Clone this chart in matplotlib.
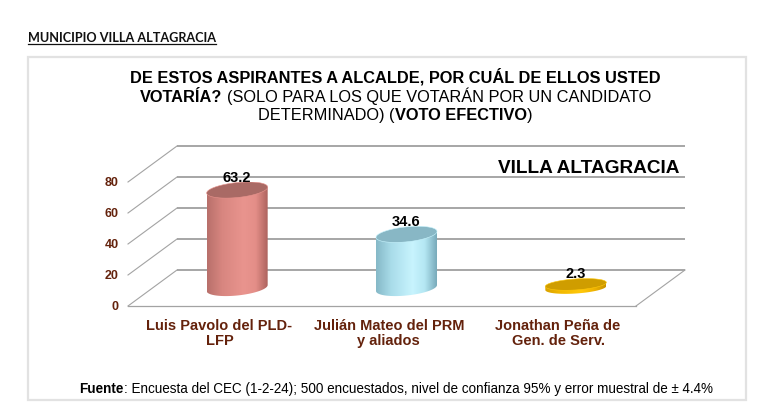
import numpy as np
import matplotlib
matplotlib.use("Agg")
import matplotlib.pyplot as plt
from matplotlib.colors import LinearSegmentedColormap
from matplotlib.patches import Polygon, Rectangle

# data
candidates = ["Luis Pavolo del PLD-\nLFP", "Julián Mateo del PRM\ny aliados", "Jonathan Peña de\nGen. de Serv."]
votes = [63.2, 34.6, 2.3]
y_ticks = [0, 20, 40, 60, 80]
header = "MUNICIPIO VILLA ALTAGRACIA"
place = "VILLA ALTAGRACIA"
title_lines = [
    [("DE ESTOS ASPIRANTES A ALCALDE, POR CUÁL DE ELLOS USTED", "bold")],
    [("VOTARÍA?", "bold"), (" (SOLO PARA LOS QUE VOTARÁN POR UN CANDIDATO", "normal")],
    [("DETERMINADO) (", "normal"), ("VOTO EFECTIVO", "bold"), (")", "normal")],
]
source = [("Fuente", "bold"), (": Encuesta del CEC (1-2-24); 500 encuestados, nivel de confianza 95% y error muestral de ± 4.4%", "normal")]

# colours per bar: gradient stops of the side, colour of the top
side_colors = [
    ["#b8706b", "#d88680", "#e9948e", "#e48e88", "#ad635e"],
    ["#85b8c7", "#a9dce9", "#c8f4fe", "#b4e7f3", "#78aaba"],
    ["#d9a200", "#f2b900", "#ffc80a", "#f0b400", "#c99300"],
]
top_colors = ["#a96a65", "#88b7c5", "#cf9d00"]
ell_px = [15, 15, 11]
tilt_px = [3, 3, 2]

W, H = 767, 410
fig = plt.figure(figsize=(W / 100, H / 100), dpi=100)
fig.patch.set_facecolor("white")
renderer = fig.canvas.get_renderer()
ARIAL = "Liberation Sans"
BROWN = "#64220c"


def fx(x):
    return x / W


def fy(y):
    return 1 - y / H


def text_w(s, size, weight, family):
    t = fig.text(0, 0, s, fontsize=size, fontweight=weight, family=family)
    w = t.get_window_extent(renderer).width
    t.remove()
    return w


def layout(segs, size, family):
    space = text_w("x x", size, "normal", family) - text_w("xx", size, "normal", family)
    items, total = [], 0
    for s, wt in segs:
        lead = len(s) - len(s.lstrip(" "))
        s = s.lstrip(" ")
        total += lead * space
        items.append((total, s, wt))
        total += text_w(s, size, wt, family)
    return items, total


def fit_size(segs, target, family):
    _, w = layout(segs, 10, family)
    return 10 * target / w


def draw_segs(segs, x, base, size, family, color="black", center=True):
    items, total = layout(segs, size, family)
    x0 = x - total / 2 if center else x
    for off, s, wt in items:
        fig.text(fx(x0 + off), fy(base), s, fontsize=size, fontweight=wt,
                 family=family, color=color, ha="left", va="baseline")
    return x0, total


# frame
fig.add_artist(Rectangle((fx(28), fy(401)), (746 - 28) / W, (401 - 58) / H,
                         transform=fig.transFigure, facecolor="none",
                         edgecolor="#e2e2e2", lw=1.6, zorder=-1))

# header (underlined)
hs = fit_size([(header, "bold")], 187, "Lato")
x0, tw = draw_segs([(header, "bold")], 28, 42, hs, "Lato", color="#111111", center=False)
fig.add_artist(plt.Line2D([fx(x0), fx(x0 + tw)], [fy(44.5), fy(44.5)],
                          transform=fig.transFigure, color="#111111", lw=0.9))

# title
ts = fit_size(title_lines[0], 529, ARIAL)
for segs, base in zip(title_lines, [83, 102, 120]):
    draw_segs(segs, 395.5, base, ts, ARIAL)

# source
ss = fit_size(source, 638, ARIAL)
draw_segs(source, 396, 393, ss, ARIAL)

# chart: front plane axes
x0p, x1p, y0p, y1p = 128, 636, 307, 183
ax = fig.add_axes([fx(x0p), fy(y0p), (x1p - x0p) / W, (y0p - y1p) / H])
ax.axis("off")
ax.set_zorder(2)
n = len(votes)
xl = (-0.5, n - 0.5)
px_x = (x1p - x0p) / n
px_y = (y0p - y1p) / y_ticks[-1]
dx = 49 / px_x
dy = 36 / px_y

for v in y_ticks:
    ax.plot([xl[0] + dx, xl[1] + dx], [v + dy, v + dy], color="#a6a6a6", lw=1.4,
            clip_on=False, zorder=1, solid_capstyle="butt")
    ax.plot([xl[0], xl[0] + dx], [v, v + dy], color="#a3a3a3", lw=0.8,
            clip_on=False, zorder=1)
    ax.annotate(str(v), (xl[0], v), xytext=(-6.5, 0), textcoords="offset points",
                ha="right", va="center", fontsize=9, fontweight="bold",
                family=ARIAL, color=BROWN, annotation_clip=False)
ax.plot([xl[0], xl[1]], [0, 0], color="#a3a3a3", lw=0.9, clip_on=False, zorder=1)
ax.plot([xl[1], xl[1] + dx], [0, dy], color="#a3a3a3", lw=0.8, clip_on=False, zorder=1)


def cylinder(cx, base, h, w, eh, tilt, stops, top_c):
    a = w / 2
    b = eh / 2
    top = base + h
    t = np.linspace(0, np.pi, 60)
    arc_x = cx - a * np.cos(t)
    arc_y = base - b * np.sin(t) - tilt * np.cos(t)
    verts = [(cx - a, top - tilt)] + list(zip(arc_x, arc_y)) + [(cx + a, top + tilt)]
    clip = Polygon(verts, closed=True, facecolor="none", edgecolor="none")
    ax.add_patch(clip)
    cmap = LinearSegmentedColormap.from_list("c", list(zip([0, 0.25, 0.6, 0.8, 1], stops)))
    grad = np.linspace(0, 1, 256).reshape(1, -1)
    im = ax.imshow(grad, cmap=cmap, extent=[cx - a, cx + a, base - b - tilt, top + tilt],
                   aspect="auto", origin="lower", zorder=3, interpolation="bilinear")
    im.set_clip_path(clip)
    tt = np.linspace(0, 2 * np.pi, 120)
    ex = cx + a * np.cos(tt)
    ey = top + b * np.sin(tt) + tilt * np.cos(tt)
    ax.add_patch(Polygon(list(zip(ex, ey)), closed=True, facecolor=top_c,
                         edgecolor=stops[2], lw=0.4, zorder=4))
    return top + np.hypot(b, tilt)


for i, v in enumerate(votes):
    cx = i + dx / 2
    top_edge = cylinder(cx, dy / 2, v, 61 / px_x, ell_px[i] / px_y, tilt_px[i] / px_y,
                        side_colors[i], top_colors[i])
    ax.annotate(f"{v}", (cx, top_edge), xytext=(0, 1.0), textcoords="offset points",
                ha="center", va="baseline", fontsize=10.5, fontweight="bold",
                family=ARIAL, color="black", zorder=5, annotation_clip=False)
    ax.annotate(candidates[i], (i + 0.04, 0), xytext=(0, -9), textcoords="offset points",
                ha="center", va="top", fontsize=10.5, fontweight="bold", family=ARIAL,
                color=BROWN, linespacing=1.05, annotation_clip=False)

ps = fit_size([(place, "bold")], 181, ARIAL)
ax.annotate(place, (xl[1] + dx, y_ticks[-1] + dy), xytext=(-4.3, -18.7), textcoords="offset points",
            ha="right", va="baseline", fontsize=ps, fontweight="bold", family=ARIAL,
            color="black", annotation_clip=False)

ax.set_xlim(*xl)
ax.set_ylim(0, y_ticks[-1])

fig.savefig("out.png", dpi=100, facecolor="white")
